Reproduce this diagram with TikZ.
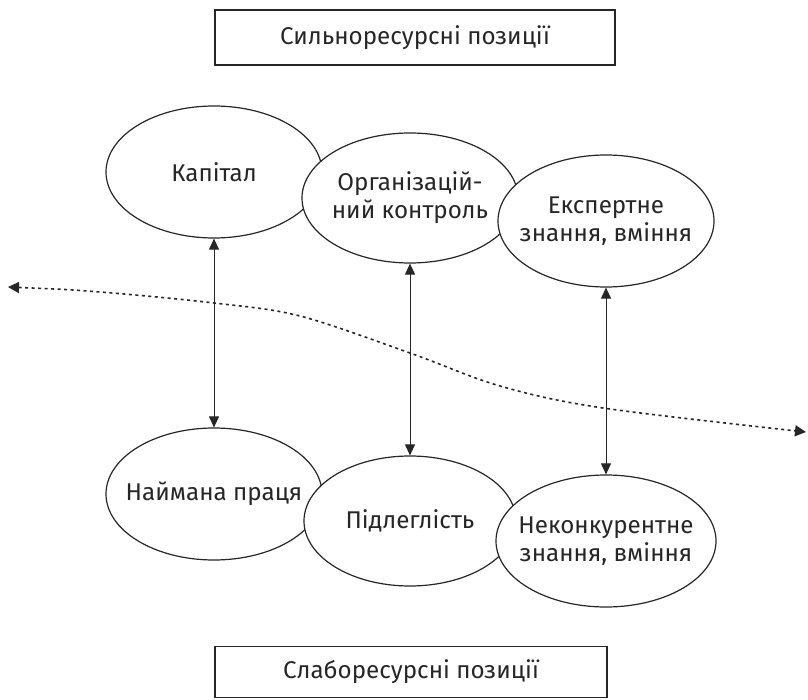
\documentclass[tikz,border=0pt]{standalone}
\usepackage{fontspec}
\setmainfont{Fira Sans}
\usetikzlibrary{shapes.geometric,arrows.meta}
\begin{document}
\begin{tikzpicture}[x=1pt,y=-1pt,
  every node/.style={font=\fontsize{24.2}{28}\selectfont, text=black!85},
  oval/.style={ellipse, draw=black!85, line width=1.2pt, fill=white, inner xsep=-22pt, inner ysep=-12pt, align=center},
  labelbox/.style={rectangle, draw=black!85, line width=1.2pt, inner sep=0pt},
  link/.style={draw=black!85, line width=1pt, {Triangle[length=11pt,width=10pt]}-{Triangle[length=11pt,width=10pt]}},
  border/.style={draw=black!85, line width=1.6pt, dash pattern=on 3pt off 3.5pt, {Triangle[length=11pt,width=11pt]}-{Triangle[length=11pt,width=11pt]}}]
\useasboundingbox (0,0) rectangle (808,700);
\node[labelbox, minimum width=400pt, minimum height=55pt] (top) at (415,37.5) {Сильноресурсні позиції};
\node[labelbox, minimum width=392pt, minimum height=51pt] (bot) at (411,672) {Слаборесурсні позиції};

\coordinate (l0) at (8,287);
\coordinate (l1) at (100,292);
\coordinate (l2) at (214,303);
\coordinate (l3) at (300,316);
\coordinate (l4) at (410,353);
\coordinate (l5) at (500,386);
\coordinate (l6) at (603,408);
\coordinate (l7) at (806,432);
\draw[border] plot[smooth, tension=0.55] coordinates {(l0) (l1) (l2) (l3) (l4) (l5) (l6) (l7)};

\node[oval, minimum width=216pt, minimum height=132pt] (kap) at (214,172) {Капітал};
\node[oval, minimum width=216pt, minimum height=130pt] (org) at (410,198) {Організацій-\\ний контроль};
\node[oval, minimum width=216pt, minimum height=132pt] (exp) at (606,221) {Експертне\\знання, вміння};
\node[oval, minimum width=216pt, minimum height=132pt] (naym) at (214,494) {Наймана праця};
\node[oval, minimum width=212pt, minimum height=130pt] (pidl) at (410,521) {Підлеглість};
\node[oval, minimum width=220pt, minimum height=132pt] (nekon) at (606,541) {Неконкурентне\\знання, вміння};

\draw[link] (kap.south) -- (naym.north);
\draw[link] (org.south) -- (pidl.north);
\draw[link] (exp.south) -- (nekon.north);
\end{tikzpicture}
\end{document}
